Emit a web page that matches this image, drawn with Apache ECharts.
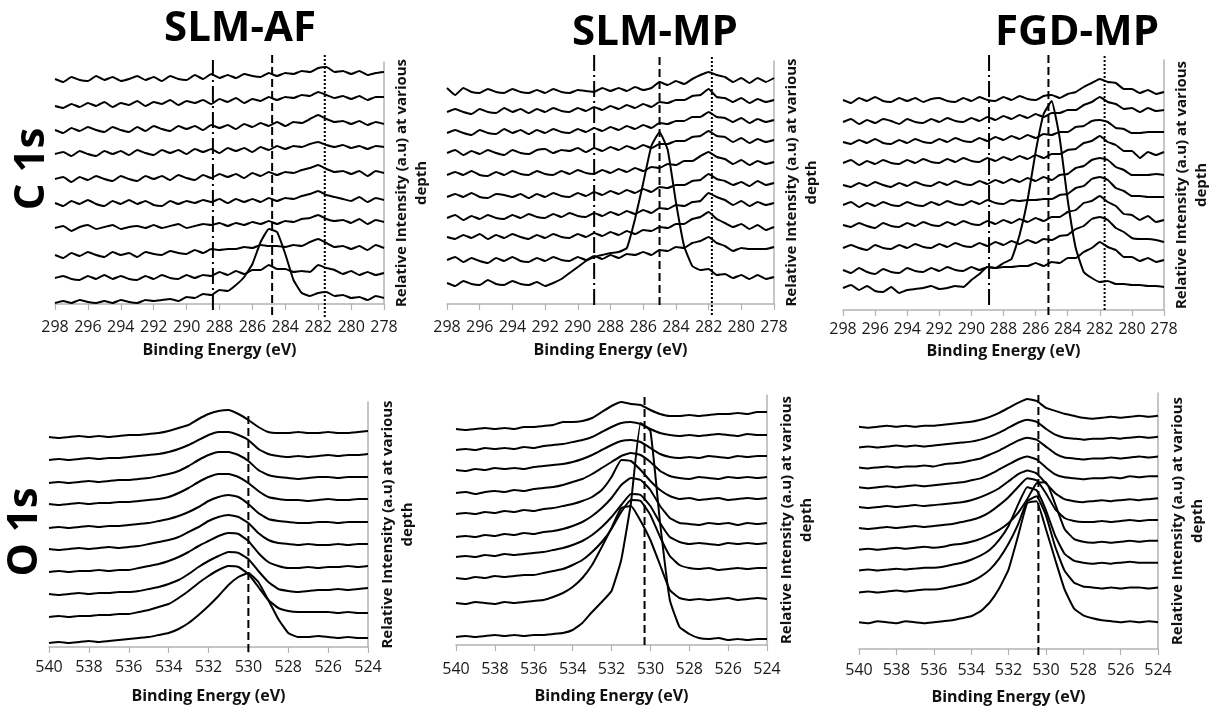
<!DOCTYPE html>
<html><head><meta charset="utf-8">
<script src="https://cdn.jsdelivr.net/npm/echarts@6/dist/echarts.min.js"></script>
<style>html,body{margin:0;padding:0;background:#fff}#c{width:1213px;height:706px}</style>
</head><body><div id="c"></div>
<script>
// ---------- DATA ----------
const c1sEnergy = [298,297.5,297,296.5,296,295.5,295,294.5,294,293.5,293,292.5,292,291.5,291,290.5,290,289.5,289,288.5,288,287.5,287,286.5,286,285.5,285,284.5,284,283.5,283,282.5,282,281.5,281,280.5,280,279.5,279,278.5,278];
const o1sEnergy = [540,539.5,539,538.5,538,537.5,537,536.5,536,535.5,535,534.5,534,533.5,533,532.5,532,531.5,531,530.5,530,529.5,529,528.5,528,527.5,527,526.5,526,525.5,525,524.5,524];

const panelTitles = ['SLM-AF','SLM-MP','FGD-MP'];
const rowLabels = ['C 1s','O 1s'];
const xAxisName = 'Binding Energy (eV)';
const yAxisName = 'Relative Intensity (a.u) at various\ndepth';

// C 1s, SLM-AF (top curve first)
const c1sSlmAf = [
[225,222,227,224,223,228,224,227,223,225,228,224,227,223,228,225,224,229,225,230,226,229,226,230,228,227,231,228,231,230,233,232,236,237,232,233,230,233,229,231,232],
[198,196,200,197,201,198,202,197,201,199,203,198,202,200,204,199,203,201,204,200,205,202,206,201,205,203,207,204,207,206,209,208,212,209,206,208,205,208,204,207,207],
[174,171,176,173,177,174,172,177,174,172,177,173,178,175,173,178,175,178,174,179,176,179,175,180,177,181,178,182,178,182,181,185,189,185,182,183,180,183,179,182,180],
[150,152,148,153,150,148,153,150,153,149,154,151,149,154,151,154,150,155,152,155,151,156,153,156,152,157,154,158,155,158,157,160,162,159,157,159,156,158,155,158,157],
[125,127,122,127,124,128,125,123,128,125,123,128,125,128,124,129,126,124,129,126,130,127,130,126,131,128,132,129,132,131,134,136,139,135,132,133,130,133,128,133,131],
[101,98,103,100,104,100,98,103,100,104,100,103,99,98,103,100,103,101,104,102,105,101,105,102,105,102,106,103,106,105,108,110,113,109,107,105,103,107,102,106,104],
[76,78,73,77,79,75,77,79,75,77,78,76,79,76,78,80,76,78,80,79,81,78,81,79,82,80,83,80,83,82,85,86,89,85,83,84,81,85,80,84,82],
[49,46,51,48,52,49,47,52,49,51,47,52,50,49,53,51,50,54,51,55,54,55,55,57,56,59,58,58,57,59,58,62,65,61,57,58,55,58,54,59,56],
[26,28,25,24,28,25,29,25,28,25,24,28,25,29,26,25,29,26,29,28,32,29,33,30,34,34,39,35,35,32,33,32,39,36,34,30,33,29,32,29,31],
[1,3,1,4,2,1,3,1,4,2,1,4,3,4,5,3,7,6,10,9,14,13,19,27,40,62,75,72,50,24,11,8,11,12,8,9,6,7,4,8,6]
];
// C 1s, SLM-MP
const c1sSlmMp = [
[216,209,216,212,211,215,212,211,215,212,211,214,211,215,212,211,214,213,212,216,213,216,213,217,214,216,222,219,223,220,225,229,232,229,227,222,226,221,226,222,226],
[192,195,192,190,195,192,191,196,192,195,191,195,192,196,193,192,196,193,197,194,198,195,199,196,200,197,202,201,204,204,208,209,215,207,206,202,206,201,205,202,204],
[171,174,171,169,174,171,170,175,171,174,170,174,171,175,172,171,175,172,176,173,177,174,178,175,179,176,181,180,183,183,187,187,192,187,186,182,186,181,185,182,184],
[151,154,149,153,150,154,151,149,154,151,150,154,155,151,154,153,156,152,156,153,157,154,158,155,159,156,160,160,163,163,167,168,173,168,167,162,166,161,165,162,164],
[129,132,129,133,129,128,132,129,133,130,129,133,130,129,133,130,134,131,130,134,131,135,132,136,133,137,136,140,139,143,143,148,152,147,145,140,144,139,143,140,142],
[107,110,107,111,107,106,110,109,107,110,106,110,107,111,108,107,111,108,112,109,113,110,114,111,115,112,117,116,119,119,123,124,130,125,123,119,122,118,123,119,121],
[86,89,84,88,85,89,86,85,89,86,90,87,86,90,87,91,88,87,91,88,92,89,93,90,94,91,96,95,99,98,102,103,111,107,104,99,103,98,102,99,101],
[67,65,69,66,70,65,69,66,70,67,65,69,66,70,67,66,70,67,71,68,72,69,73,70,74,73,77,76,80,80,85,87,92,85,81,77,80,75,79,74,77],
[44,47,42,46,43,41,46,43,47,43,42,46,43,47,44,43,47,44,48,45,49,46,50,49,52,49,54,53,57,56,61,63,67,61,58,53,56,55,55,55,57],
[21,18,23,20,19,24,20,19,23,20,19,22,18,21,25,31,37,43,47,49,51,52,56,85,121,158,172,154,102,58,38,34,35,29,30,26,29,25,29,25,27]
];
// C 1s, FGD-MP
const c1sFgdMp = [
[210,207,212,209,213,209,208,212,209,212,208,211,212,209,208,212,209,213,210,209,213,210,214,211,210,214,215,212,216,218,223,227,231,228,227,221,221,217,220,216,218],
[188,191,186,190,187,191,189,186,191,188,187,191,188,192,189,188,192,189,193,190,194,191,195,192,196,193,197,197,200,200,205,208,213,208,206,201,202,198,202,199,200],
[168,166,170,167,171,167,166,170,167,171,168,167,171,168,172,169,168,172,169,173,170,174,171,175,172,176,175,178,178,183,184,189,190,188,182,181,177,177,178,178,178],
[147,150,145,149,146,150,147,146,150,147,151,148,147,151,148,152,149,148,152,149,153,150,154,151,155,152,156,156,160,161,167,169,174,168,165,159,159,152,158,155,158],
[125,123,127,124,128,125,123,127,124,128,125,124,128,125,129,126,125,129,126,130,127,131,128,132,129,133,130,135,136,142,144,150,152,150,143,140,135,135,135,136,135],
[105,108,103,107,104,108,105,104,108,105,104,108,105,109,106,105,109,106,110,107,106,110,109,110,110,111,111,115,116,122,124,131,133,130,122,119,114,114,113,113,113],
[85,83,87,84,82,87,84,83,87,84,88,85,84,88,85,89,86,85,89,86,90,87,91,88,92,89,93,93,98,100,107,109,114,108,104,96,95,90,94,88,90],
[62,65,62,60,65,62,61,65,62,66,63,62,66,63,67,64,63,67,64,68,65,69,66,70,67,71,70,74,75,81,84,91,93,90,82,78,72,71,71,70,68],
[40,37,42,38,36,41,38,37,42,39,38,42,39,43,40,39,43,40,43,42,43,43,44,44,47,44,48,47,52,52,58,62,68,63,60,53,53,49,52,48,50],
[22,25,20,24,19,18,23,17,20,21,22,24,21,22,24,23,30,36,43,42,47,51,75,110,158,196,209,172,110,62,38,32,28,29,26,26,25,25,24,24,23]
];
// O 1s, SLM-AF
const o1sSlmAf = [
[210,209,210,211,210,211,210,211,212,212,213,214,216,219,222,228,233,236,237,233,227,220,215,214,214,215,214,214,215,214,214,215,216],
[187,188,187,188,189,188,189,189,190,191,192,193,195,198,202,207,212,215,215,212,207,198,193,191,190,191,190,191,192,191,192,192,193],
[164,165,164,165,166,165,166,167,167,168,169,171,173,176,181,187,192,195,195,192,186,177,172,170,169,168,169,170,170,169,170,170,170],
[143,142,143,144,143,144,144,145,145,146,147,148,150,154,159,165,170,173,173,170,164,156,150,148,147,147,146,147,148,147,147,148,148],
[119,120,119,120,121,120,121,121,122,123,124,126,128,131,135,140,146,150,152,150,143,134,128,126,125,124,124,125,125,124,125,125,125],
[98,97,98,99,98,99,100,99,100,101,103,105,107,110,115,120,126,130,132,130,124,114,107,104,103,102,103,102,102,103,102,103,103],
[75,76,75,76,76,77,76,77,77,79,81,83,86,90,95,101,106,111,114,113,106,94,85,81,79,79,80,79,80,80,81,80,81],
[53,52,53,54,53,54,54,55,55,56,58,60,63,67,73,80,86,91,95,94,88,76,65,58,56,55,56,57,57,58,57,58,59],
[30,31,30,31,31,32,32,33,33,35,37,40,43,49,56,64,71,77,81,80,73,60,47,39,36,35,35,35,35,34,35,34,34],
[4,5,4,5,6,5,6,7,8,9,10,12,14,18,24,32,41,51,62,70,74,65,47,28,14,10,10,11,10,9,10,9,9]
];
// O 1s, SLM-MP
const o1sSlmMp = [
[216,215,216,217,216,217,216,218,218,219,220,223,223,224,227,233,239,243,241,240,235,231,229,229,230,229,230,231,231,232,231,233,233],
[195,196,195,197,196,197,196,198,197,199,200,201,203,205,208,213,218,222,223,221,216,212,210,209,210,209,210,211,210,209,211,210,210],
[175,174,176,175,177,176,177,176,178,179,180,181,183,186,190,195,200,204,205,203,197,191,188,187,188,187,189,188,187,189,188,189,189],
[152,153,151,153,154,153,155,154,156,157,158,160,163,166,171,177,183,189,192,190,183,174,169,167,166,168,167,166,168,167,168,167,168],
[131,132,131,133,132,134,133,135,134,136,137,139,141,144,148,155,168,185,184,175,164,155,149,146,147,145,146,147,145,146,147,146,147],
[108,109,108,110,109,111,110,112,111,113,114,116,119,123,129,137,147,160,167,165,155,139,127,122,121,120,122,121,122,120,122,121,122],
[88,89,88,90,89,91,90,91,92,93,95,97,100,104,110,118,128,140,151,150,139,122,108,103,101,102,101,100,102,101,102,101,102],
[67,66,68,67,69,68,69,70,70,72,74,76,80,85,93,103,116,133,145,144,130,108,89,80,77,76,77,75,76,77,76,77,77],
[42,41,43,42,41,43,42,43,44,45,48,52,58,67,80,98,117,137,139,124,105,80,55,47,45,46,45,46,47,45,46,47,46],
[8,9,8,9,10,9,10,9,10,10,11,12,15,22,33,43,54,85,142,222,214,122,45,18,11,7,6,7,5,6,5,6,6]
];
// O 1s, FGD-MP
const o1sFgdMp = [
[224,223,224,225,224,225,224,225,225,226,227,228,229,231,234,238,243,248,252,250,243,240,237,235,233,232,233,234,233,234,235,234,235],
[203,204,203,204,205,204,205,204,205,206,207,208,209,211,214,218,223,228,231,229,222,216,213,212,211,212,212,213,212,213,214,213,214],
[183,182,183,184,183,184,184,185,184,186,187,188,190,192,196,200,205,210,213,211,204,197,193,192,191,192,192,193,192,193,194,193,194],
[163,162,163,164,163,164,165,164,165,166,167,168,170,172,176,181,186,191,194,191,183,176,173,172,171,172,172,173,172,174,173,174,174],
[143,142,143,144,143,144,145,144,145,146,147,148,150,153,157,162,169,176,180,177,167,157,151,149,148,149,150,149,150,151,150,151,152],
[122,121,122,123,122,123,124,123,124,125,126,128,130,133,138,145,153,163,172,170,157,141,132,129,128,128,129,128,129,130,129,130,130],
[100,101,100,101,102,101,102,103,102,103,105,106,108,111,115,120,127,137,151,167,168,146,121,111,108,107,108,107,108,109,108,109,109],
[79,80,79,80,81,80,81,82,82,83,85,87,90,94,100,110,124,145,163,160,140,114,96,89,87,86,87,86,87,88,87,87,87],
[57,58,57,58,59,58,59,60,60,61,63,65,68,73,80,91,106,125,149,154,135,103,79,67,63,62,61,62,61,62,62,61,62],
[27,26,28,27,26,28,27,26,27,28,29,31,33,38,47,61,80,113,147,149,121,90,60,41,34,31,29,28,27,28,27,28,27]
];

// reference lines: [energy, low, high] (order: dash-dot, dashed, dotted)
const refC1sSlmAf = [[288.4,-6,246],[284.8,-11,249],[281.6,-13,249]];
const refC1sSlmMp = [[289.0,-1,251],[285.0,-1,249],[281.8,-11,249]];
const refC1sFgdMp = [[288.9,5,257],[285.2,-5,255],[281.7,0,255]];
const refO1sSlmAf = [[530.0,-5,233]];
const refO1sSlmMp = [[530.3,0,250]];
const refO1sFgdMp = [[530.4,-6,259]];

// ---------- LAYOUT ----------
const FONT = "'Open Sans', 'DejaVu Sans', sans-serif";
const panels = [
 {grid:{left:55,top:62,width:329,height:242}, energy:c1sEnergy, min:278, max:298, yMax:242, curves:c1sSlmAf, refs:refC1sSlmAf, margin:15, nameGap:38, yGap:8},
 {grid:{left:447,top:61,width:327,height:243}, energy:c1sEnergy, min:278, max:298, yMax:243, curves:c1sSlmMp, refs:refC1sSlmMp, margin:15, nameGap:38, yGap:8},
 {grid:{left:843,top:60,width:329,height:250}, energy:c1sEnergy, min:278, max:298, yMax:250, curves:c1sFgdMp, refs:refC1sFgdMp, margin:11, nameGap:33, yGap:8},
 {grid:{left:49,top:402,width:319,height:245}, energy:o1sEnergy, min:524, max:540, yMax:245, curves:o1sSlmAf, refs:refO1sSlmAf, margin:12, nameGap:41, yGap:10},
 {grid:{left:456,top:395,width:311,height:250}, energy:o1sEnergy, min:524, max:540, yMax:250, curves:o1sSlmMp, refs:refO1sSlmMp, margin:16, nameGap:43, yGap:10},
 {grid:{left:859,top:393,width:299,height:258}, energy:o1sEnergy, min:524, max:540, yMax:258, curves:o1sFgdMp, refs:refO1sFgdMp, margin:13, nameGap:40, yGap:10}
];
const dashStyles = [[16,4,2,4],[8,4],[2,2]];
const dashStylesO = [[8,4]];
const AXIS_GRAY = '#b3b3b3';

const grids=[], xAxes=[], yAxes=[], series=[];
panels.forEach((p,k)=>{
  grids.push(Object.assign({containLabel:false}, p.grid));
  xAxes.push({
    gridIndex:k, type:'value', min:p.min, max:p.max, interval:2, inverse:true,
    axisLine:{show:true,onZero:false,lineStyle:{color:AXIS_GRAY,width:1.5}},
    axisTick:{show:true,length:6,lineStyle:{color:AXIS_GRAY,width:1.2}},
    axisLabel:{fontFamily:FONT,fontSize:16,color:'#1a1a1a',margin:p.margin},
    splitLine:{show:false},
    name:xAxisName, nameLocation:'middle', nameGap:p.nameGap,
    nameTextStyle:{fontFamily:FONT,fontWeight:'bold',fontSize:16,color:'#111'}
  });
  yAxes.push({
    gridIndex:k, type:'value', position:'right', min:0, max:p.yMax,
    axisLine:{show:true,onZero:false,lineStyle:{color:AXIS_GRAY,width:1.5}},
    axisTick:{show:false}, axisLabel:{show:false}, splitLine:{show:false},
    name:yAxisName, nameLocation:'middle', nameRotate:90, nameGap:p.yGap,
    nameTextStyle:{fontFamily:FONT,fontWeight:'bold',fontSize:15,lineHeight:20,color:'#111'}
  });
  p.curves.forEach(c=>{
    series.push({type:'line', xAxisIndex:k, yAxisIndex:k, showSymbol:false, smooth:0.12, silent:true,
      lineStyle:{color:'#000',width:2}, data:p.energy.map((e,i)=>[e,c[i]])});
  });
  const styles = p.refs.length===1 ? dashStylesO : dashStyles;
  p.refs.forEach((r,j)=>{
    series.push({type:'line', xAxisIndex:k, yAxisIndex:k, showSymbol:false, clip:false, silent:true, z:3,
      lineStyle:{color:'#000',width:2,type:styles[j]}, data:[[r[0],r[1]],[r[0],r[2]]]});
  });
});

const graphics = [
  {type:'text', x:240, y:29, style:{text:panelTitles[0], font:"bold 42px "+FONT, fill:'#000', align:'center', verticalAlign:'middle'}},
  {type:'text', x:655, y:33, style:{text:panelTitles[1], font:"bold 42px "+FONT, fill:'#000', align:'center', verticalAlign:'middle'}},
  {type:'text', x:1077, y:33, style:{text:panelTitles[2], font:"bold 42px "+FONT, fill:'#000', align:'center', verticalAlign:'middle'}},
  {type:'text', x:32, y:169, rotation:Math.PI/2, style:{text:rowLabels[0], font:"bold 42px "+FONT, fill:'#000', align:'center', verticalAlign:'middle'}},
  {type:'text', x:25, y:532, rotation:Math.PI/2, style:{text:rowLabels[1], font:"bold 42px "+FONT, fill:'#000', align:'center', verticalAlign:'middle'}}
];

const chart = echarts.init(document.getElementById('c'), null, {renderer:'canvas'});
chart.setOption({animation:false, backgroundColor:'#fff', grid:grids, xAxis:xAxes, yAxis:yAxes, series:series, graphic:graphics});
</script>
</body></html>
